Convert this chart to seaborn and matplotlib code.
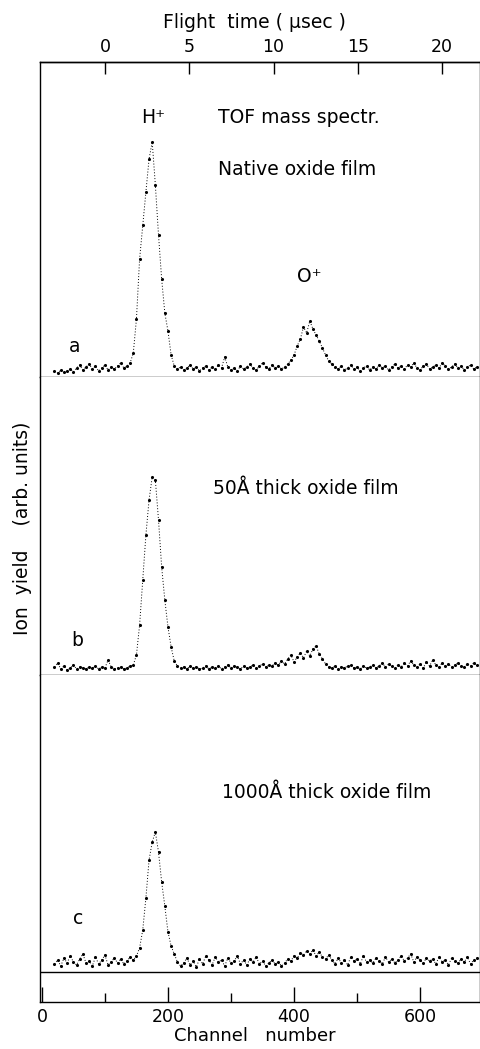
import matplotlib
matplotlib.use("Agg")
import matplotlib.pyplot as plt
import numpy as np
import pandas as pd
import seaborn as sns

sns.set_theme(style="ticks", rc={
    "axes.edgecolor": "black", "text.color": "black",
    "xtick.color": "black", "ytick.color": "black",
    "axes.labelcolor": "black",
})
plt.rcParams["font.family"] = ["DejaVu Sans"]

# ---------------- data ----------------
channels = list(range(20, 695, 5))   # channel number, 20 ... 690

# (a) native oxide film
yield_a = [
    6, 4, 7, 5, 6, 8, 5, 9, 12, 7,          # 20-65
    10, 13, 8, 11, 6, 9, 12, 7, 10, 8,      # 70-115
    11, 14, 9, 11, 14, 24, 58, 118, 152, 185,  # 120-165
    218, 235, 192, 142, 98, 64, 46, 22, 11, 8,  # 170-215
    10, 7, 9, 12, 8, 10, 6, 9, 11, 7,       # 220-265
    10, 8, 12, 9, 20, 10, 7, 9, 6, 11,      # 270-315
    8, 10, 13, 9, 7, 11, 14, 10, 8, 12,     # 320-365
    9, 11, 8, 10, 13, 17, 22, 31, 38, 50,   # 370-415
    44, 56, 48, 42, 36, 29, 22, 16, 13, 10, # 420-465
    8, 11, 7, 9, 12, 8, 10, 6, 9, 11,       # 470-515
    7, 10, 8, 12, 9, 11, 7, 10, 13, 9,      # 520-565
    11, 8, 12, 10, 14, 9, 7, 11, 13, 8,     # 570-615
    10, 12, 9, 14, 11, 8, 10, 13, 9, 11,    # 620-665
    7, 10, 12, 8, 10,                       # 670-690
]

# (b) 50 A thick oxide film
yield_b = [
    8, 12, 6, 9, 5, 7, 10, 6, 8, 7,
    6, 8, 7, 9, 6, 8, 7, 15, 8, 6,
    7, 8, 6, 7, 9, 10, 20, 50, 95, 140,
    175, 198, 195, 155, 108, 75, 48, 28, 14, 9,
    7, 8, 6, 9, 7, 8, 6, 7, 9, 6,
    8, 7, 9, 6, 8, 10, 7, 9, 8, 6,
    9, 7, 8, 10, 7, 9, 11, 8, 10, 9,
    12, 10, 14, 11, 16, 20, 13, 18, 22, 17,
    24, 19, 26, 29, 21, 16, 11, 8, 7, 9,
    6, 8, 7, 9, 10, 7, 8, 6, 9, 7,
    8, 10, 7, 9, 12, 8, 11, 9, 7, 10,
    8, 12, 9, 14, 10, 8, 11, 7, 13, 9,
    15, 10, 8, 12, 9, 11, 8, 10, 12, 9,
    8, 11, 9, 12, 10,
]

# (c) 1000 A thick oxide film
yield_c = [
    8, 12, 6, 14, 9, 16, 10, 7, 13, 18,
    9, 11, 6, 15, 8, 12, 17, 7, 10, 14,
    9, 13, 8, 11, 15, 12, 16, 24, 42, 74,
    112, 130, 140, 120, 90, 66, 40, 26, 18, 10,
    6, 9, 14, 7, 11, 5, 13, 8, 16, 12,
    7, 15, 10, 12, 6, 14, 9, 11, 16, 8,
    12, 7, 13, 10, 15, 8, 11, 6, 9, 12,
    8, 10, 6, 9, 13, 11, 16, 14, 19, 17,
    21, 18, 22, 16, 20, 15, 13, 17, 12, 8,
    14, 9, 12, 7, 15, 11, 13, 8, 16, 10,
    12, 9, 14, 11, 8, 15, 10, 13, 9, 12,
    16, 11, 14, 18, 10, 15, 12, 9, 14, 11,
    13, 8, 15, 10, 12, 7, 14, 11, 9, 13,
    10, 15, 8, 12, 14,
]

bottom_ticks = [0, 200, 400, 600]
bottom_minor = [100, 300, 500]
top_ticks = [0, 5, 10, 15, 20]
CH_AT_T0 = 100.0      # channel of flight time 0
CH_PER_US = 26.75     # channels per microsecond

# ---------------- layout ----------------
W, H = 481, 1049
fig = plt.figure(figsize=(W / 100, H / 100), dpi=100)


def ax_at(left, top, right, bottom):
    return fig.add_axes([left / W, 1 - bottom / H, (right - left) / W, (bottom - top) / H])


ax_a = ax_at(40, 62, 480, 377)
ax_b = ax_at(40, 377, 480, 675)
ax_c = ax_at(40, 675, 480, 1002)

ylims = [(0, 315), (0, 298), (-30, 297)]
for ax, vals, yl in zip([ax_a, ax_b, ax_c], [yield_a, yield_b, yield_c], ylims):
    df = pd.DataFrame({"channel": channels, "yield": vals})
    sns.lineplot(data=df, x="channel", y="yield", ax=ax, color="black",
                 linewidth=0.7, linestyle=(0, (1, 2)))
    sns.scatterplot(data=df, x="channel", y="yield", ax=ax, color="black",
                    s=5, linewidth=0)
    ax.set_xlim(-3, 695)
    ax.set_ylim(*yl)
    ax.set_xlabel("")
    ax.set_ylabel("")
    ax.set_yticks([])
    for sp in ax.spines.values():
        sp.set_linewidth(1.0)
        sp.set_color("black")

ax_a.set_xticks([])
ax_b.set_xticks([])
ax_b.spines["top"].set_visible(False)
ax_c.spines["top"].set_visible(False)
ax_c.axhline(0, color="black", linewidth=1.0)

ax_c.set_xticks(bottom_ticks)
ax_c.set_xticklabels([str(t) for t in bottom_ticks])
ax_c.set_xticks(bottom_minor, minor=True)
ax_c.tick_params(axis="x", which="major", direction="in", length=11, width=1.0,
                 labelsize=12.5, pad=4, bottom=True)
ax_c.tick_params(axis="x", which="minor", direction="in", length=6.5, width=1.0,
                 bottom=True)

sec = ax_a.secondary_xaxis(
    "top",
    functions=(lambda c: (c - CH_AT_T0) / CH_PER_US, lambda t: t * CH_PER_US + CH_AT_T0),
)
sec.set_xticks(top_ticks)
sec.set_xticklabels([str(t) for t in top_ticks])
sec.tick_params(axis="x", direction="in", length=8.5, width=1.0, labelsize=12.5, pad=4)
sec.spines["top"].set_linewidth(1.0)

fs = 13.5
# panel a annotations
ax_a.text(176, 259, "H⁺", ha="center", va="center", fontsize=fs)
ax_a.text(279, 259, "TOF mass spectr.", ha="left", va="center", fontsize=fs)
ax_a.text(279, 207, "Native oxide film", ha="left", va="center", fontsize=fs)
ax_a.text(425, 100, "O⁺", ha="center", va="center", fontsize=fs)
ax_a.text(52, 30, "a", ha="center", va="center", fontsize=fs)
# panel b
ax_b.text(271, 187, "50Å thick oxide film", ha="left", va="center", fontsize=fs)
ax_b.text(56, 35, "b", ha="center", va="center", fontsize=fs)
# panel c
ax_c.text(286, 180, "1000Å thick oxide film", ha="left", va="center", fontsize=fs)
ax_c.text(57, 53, "c", ha="center", va="center", fontsize=fs)

fig.text(254 / W, 1 - 22 / H, "Flight  time ( µsec )", ha="center", va="center", fontsize=fs)
fig.text(255 / W, 1 - 1036 / H, "Channel   number", ha="center", va="center", fontsize=13)
fig.text(23 / W, 1 - 528 / H, "Ion  yield    (arb. units)", ha="center", va="center",
         rotation=90, fontsize=fs)

fig.savefig("out.png", dpi=100, facecolor="white")
